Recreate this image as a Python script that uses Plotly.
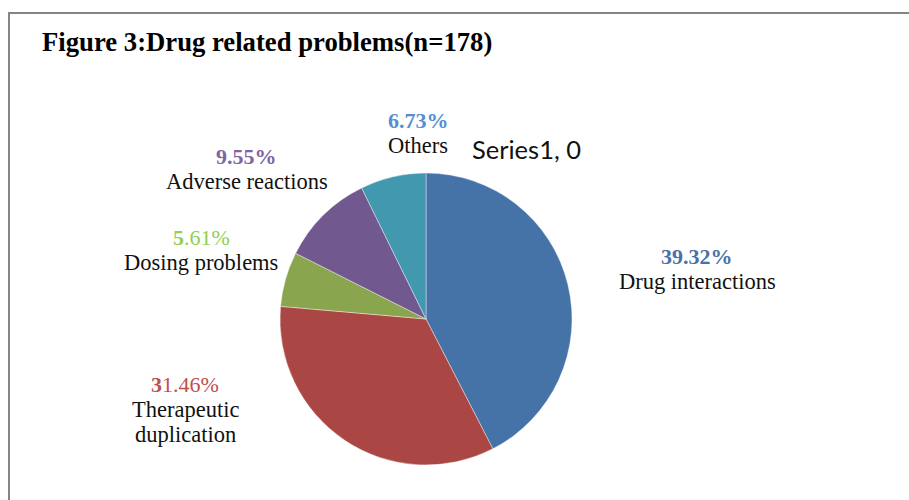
import plotly.graph_objects as go

# Drug related problems, share of each category (%)
categories = ["Drug interactions", "Therapeutic duplication", "Dosing problems",
              "Adverse reactions", "Others"]
percentages = [39.32, 31.46, 5.61, 9.55, 6.73]
series_name = "Series1"
empty_point_value = 0
title_text = "Figure 3:Drug related problems(n=178)"

W, H = 909, 500

slice_colors = ["#4572A7", "#AA4643", "#89A54E", "#71588F", "#4198AF"]
pct_colors = ["#4A70A8", "#C0504D", "#92D050", "#8064A2", "#558ED5"]
# number of leading characters of the percentage shown in bold (None = all bold)
bold_prefix = [None, 1, 1, None, None]
# label anchor (pixel centre of the percentage line) and line breaks in names
label_pos = [(697, 256), (185, 384), (201, 237), (247, 156), (418, 120)]
name_lines = [["Drug interactions"], ["Therapeutic", "duplication"],
              ["Dosing problems"], ["Adverse reactions"], ["Others"]]

cx, cy, r = 426, 319, 146

fig = go.Figure(go.Pie(
    labels=categories,
    values=percentages,
    sort=False,
    direction="clockwise",
    rotation=0,
    marker=dict(colors=slice_colors, line=dict(color="rgba(255,255,255,0.5)", width=0.8)),
    textinfo="none",
    hoverinfo="label+value",
    showlegend=False,
    domain=dict(x=[(cx - r) / W, (cx + r) / W], y=[(H - cy - r) / H, (H - cy + r) / H]),
))

def px(x):
    return x / W

def py(y):
    return 1 - y / H

annotations = []
label_font = "Liberation Serif"
for cat, val, col, bp, (lx, ly), lines in zip(categories, percentages, pct_colors,
                                                bold_prefix, label_pos, name_lines):
    s = f"{val:.2f}%"
    if bp is None:
        pct_txt = f"<b>{s}</b>"
    else:
        pct_txt = f"<b>{s[:bp]}</b>{s[bp:]}"
    annotations.append(dict(x=px(lx), y=py(ly), xref="paper", yref="paper",
                            text=pct_txt, showarrow=False, xanchor="center", yanchor="middle",
                            font=dict(family=label_font, size=22, color=col)))
    for i, line in enumerate(lines):
        annotations.append(dict(x=px(lx), y=py(ly + 25 + 25 * i), xref="paper", yref="paper",
                                text=line, showarrow=False, xanchor="center", yanchor="middle",
                                font=dict(family=label_font, size=22.5, color="#111111")))

annotations.append(dict(x=px(470), y=py(149), xref="paper", yref="paper",
                        text=f"{series_name}, {empty_point_value}", showarrow=False,
                        xanchor="left", yanchor="middle",
                        font=dict(family="Lato", size=25.5, color="#111111")))

annotations.append(dict(x=px(40), y=py(42), xref="paper", yref="paper",
                        text=f"<b>{title_text}</b>", showarrow=False,
                        xanchor="left", yanchor="middle",
                        font=dict(family="Liberation Serif", size=26.7, color="#000000")))

shapes = [
    dict(type="line", xref="paper", yref="paper", x0=px(8), x1=1.01, y0=py(13), y1=py(13),
         line=dict(color="#858585", width=2)),
    dict(type="line", xref="paper", yref="paper", x0=px(9), x1=px(9), y0=py(12), y1=-0.01,
         line=dict(color="#858585", width=2)),
]

fig.update_layout(
    width=W, height=H,
    margin=dict(l=0, r=0, t=0, b=0),
    paper_bgcolor="white",
    plot_bgcolor="white",
    annotations=annotations,
    shapes=shapes,
)

fig.write_html("out.html")
